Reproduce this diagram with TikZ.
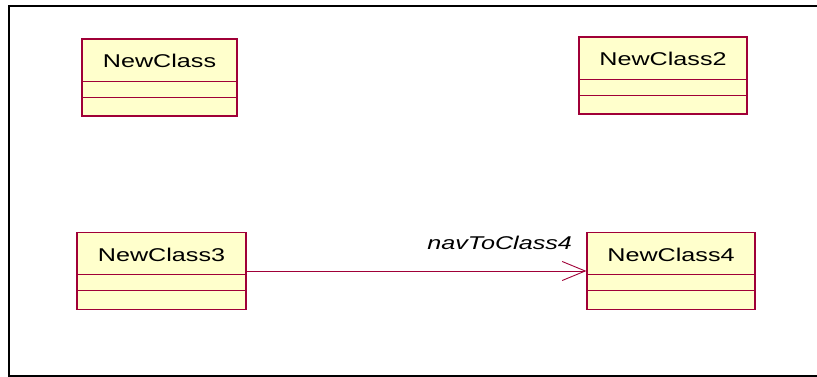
\documentclass[tikz,border=0pt]{standalone}
\usepackage{fontspec}
\setmainfont{Liberation Sans}
\usepackage{graphicx}
\usetikzlibrary{calc,arrows.meta}
\definecolor{umlred}{RGB}{160,0,55}
\definecolor{umlfill}{RGB}{255,255,204}
\newcommand{\Wide}[1]{\scalebox{1.36}[1]{#1}}
\newcommand{\Top}{43}
\newcommand{\Mid}{59}
\tikzset{ClassBox/.style={
    inner sep=0pt,
    minimum height=77pt,
    draw=umlred,
    fill=umlfill,
    line width=1.2pt,
    },
    ClassName/.style={
    inner sep=0pt,
    font=\fontsize{18.5}{20}\selectfont,
    },
    Compart/.style={draw=umlred, line width=1pt},
    NavLabel/.style={
    inner sep=0pt,
    text=black,
    font=\fontsize{18.5}{20}\selectfont\itshape,
    },
}

\begin{document}
\begin{tikzpicture}[x=1pt,y=-1pt]
    \useasboundingbox (0,0) rectangle (817,377);
    \draw[line width=2pt] (830,6) -- (8.5,6) -- (8.5,375.5) -- (830,375.5);
    % NewClass
    \node [ClassBox,minimum width=155pt] (c1) at (159.5,77.5) {};
    \node [ClassName] (c1n) at ($(c1.north)+(0,22.5)$) {\Wide{NewClass}};
    \draw [Compart] ($(c1.north west)+(0,\Top)$) -- ($(c1.north east)+(0,\Top)$);
    \draw [Compart] ($(c1.north west)+(0,\Mid)$) -- ($(c1.north east)+(0,\Mid)$);
    % NewClass2
    \node [ClassBox,minimum width=168pt] (c2) at (663,75.5) {};
    \node [ClassName] (c2n) at ($(c2.north)+(0,22.5)$) {\Wide{NewClass2}};
    \draw [Compart] ($(c2.north west)+(0,\Top)$) -- ($(c2.north east)+(0,\Top)$);
    \draw [Compart] ($(c2.north west)+(0,\Mid)$) -- ($(c2.north east)+(0,\Mid)$);
    % NewClass3
    \node [ClassBox,minimum width=169pt] (c3) at (161.5,271) {};
    \node [ClassName] (c3n) at ($(c3.north)+(0,22.5)$) {\Wide{NewClass3}};
    \draw [Compart] ($(c3.north west)+(0,\Top)$) -- ($(c3.north east)+(0,\Top)$);
    \draw [Compart] ($(c3.north west)+(0,\Mid)$) -- ($(c3.north east)+(0,\Mid)$);
    % NewClass4
    \node [ClassBox,minimum width=168pt] (c4) at (671,271) {};
    \node [ClassName] (c4n) at ($(c4.north)+(0,22.5)$) {\Wide{NewClass4}};
    \draw [Compart] ($(c4.north west)+(0,\Top)$) -- ($(c4.north east)+(0,\Top)$);
    \draw [Compart] ($(c4.north west)+(0,\Mid)$) -- ($(c4.north east)+(0,\Mid)$);
    % navigable association
    \draw [umlred, line width=0.9pt, -{Straight Barb[length=23pt,width=19pt]}] (c3) -- (c4)
        node [NavLabel, pos=1, anchor=base east, xshift=-14pt, yshift=22pt] (nav) {\Wide{navToClass4}};
\end{tikzpicture}
\end{document}
